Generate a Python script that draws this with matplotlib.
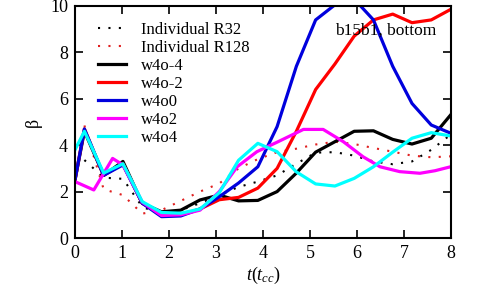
import matplotlib
matplotlib.use('Agg')
import matplotlib.pyplot as plt

plt.rcParams['font.family'] = ['Liberation Serif', 'DejaVu Serif']
plt.rcParams['mathtext.fontset'] = 'custom'
plt.rcParams['mathtext.rm'] = 'Liberation Serif'
plt.rcParams['mathtext.it'] = 'Liberation Serif:italic'

# shared output times (t_cc)
t = [0.0, 0.2, 0.61, 1.02, 1.43, 1.84, 2.25, 2.66, 3.07, 3.48, 3.89,
     4.3, 4.71, 5.12, 5.53, 5.94, 6.35, 6.76, 7.17, 7.58, 7.99]
t_ind = t[1:]
t_w4o2 = [0.0, 0.4, 0.8, 1.02, 1.43, 1.84, 2.25, 2.66, 3.07, 3.45, 3.87,
          4.3, 4.86, 5.28, 5.71, 6.13, 6.49, 6.91, 7.34, 7.66, 7.99]

ind_r32 = [3.36, 2.6, 2.55, 1.35, 1.0, 1.2, 1.5, 1.85, 2.2, 2.43,
           2.7, 3.2, 3.68, 3.7, 3.55, 3.3, 3.18, 3.3, 3.8, 4.45]
ind_r128 = [4.85, 2.1, 1.85, 1.05, 1.2, 1.6, 2.0, 2.35, 3.0, 3.4,
            3.7, 3.85, 4.03, 4.15, 4.05, 3.88, 3.72, 3.55, 3.48, 3.52]

w4o_m4 = [2.5, 4.6, 2.7, 3.3, 1.5, 1.13, 1.2, 1.64, 1.85, 1.6, 1.62,
          2.0, 2.8, 3.7, 4.15, 4.6, 4.62, 4.25, 4.05, 4.3, 5.3]
w4o_m2 = [2.5, 4.7, 2.7, 3.2, 1.5, 1.0, 1.0, 1.25, 1.65, 1.75, 2.15,
          3.0, 4.6, 6.4, 7.5, 8.7, 9.4, 9.65, 9.28, 9.4, 9.85]
w4o0 = [2.5, 4.7, 2.7, 3.15, 1.5, 0.92, 0.95, 1.25, 1.78, 2.37, 3.07,
        4.8, 7.4, 9.4, 10.05, 10.3, 9.4, 7.4, 5.8, 4.87, 4.52]
w4o2 = [2.43, 2.07, 3.43, 3.15, 1.55, 0.97, 1.0, 1.2, 2.0, 3.07, 3.72,
        4.13, 4.68, 4.68, 4.15, 3.5, 3.07, 2.86, 2.79, 2.9, 3.07]
w4o4 = [3.8, 4.6, 2.8, 3.2, 1.57, 1.1, 1.07, 1.25, 1.95, 3.35, 4.08,
        3.72, 2.85, 2.33, 2.24, 2.57, 3.07, 3.7, 4.3, 4.54, 4.4]

fig = plt.figure(figsize=(5.01, 2.85), dpi=100)
ax = fig.add_axes([0.1497, 0.1649, 0.7505, 0.8141])

dot = (0, (1, 4))
ax.plot(t_ind, ind_r32, color='black', lw=1.5, linestyle=dot, label='Individual R32')
ax.plot(t_ind, ind_r128, color='#e02020', lw=1.5, linestyle=dot, label='Individual R128')
ax.plot(t, w4o_m4, color='black', lw=2.3, label='w4o-4')
ax.plot(t, w4o_m2, color='#ff0000', lw=2.3, label='w4o-2')
ax.plot(t, w4o0, color='#0000dd', lw=2.3, label='w4o0')
ax.plot(t_w4o2, w4o2, color='#ff00ff', lw=2.3, label='w4o2')
ax.plot(t, w4o4, color='#00ffff', lw=2.3, label='w4o4')

ax.set_xlim(0, 8)
ax.set_ylim(0, 10)
ax.set_xticks(range(0, 9))
ax.set_yticks(range(0, 11, 2))
ax.tick_params(direction='in', length=6, width=1.2, top=True, right=True,
               labelsize=13, pad=5)
for s in ax.spines.values():
    s.set_linewidth(1.5)

ax.set_xlabel(r'$t(t_{cc})$', fontsize=13, labelpad=2)
ax.set_ylabel('β', fontsize=13, labelpad=6)

ax.text(5.53, 8.75, 'b15b1, bottom', fontsize=12.5)

ax.legend(loc='upper left', frameon=False, fontsize=12, handlelength=1.7,
          handletextpad=0.9, labelspacing=0.12, borderaxespad=0.3,
          bbox_to_anchor=(0.03, 0.98))

fig.savefig('out.png', dpi=100)
